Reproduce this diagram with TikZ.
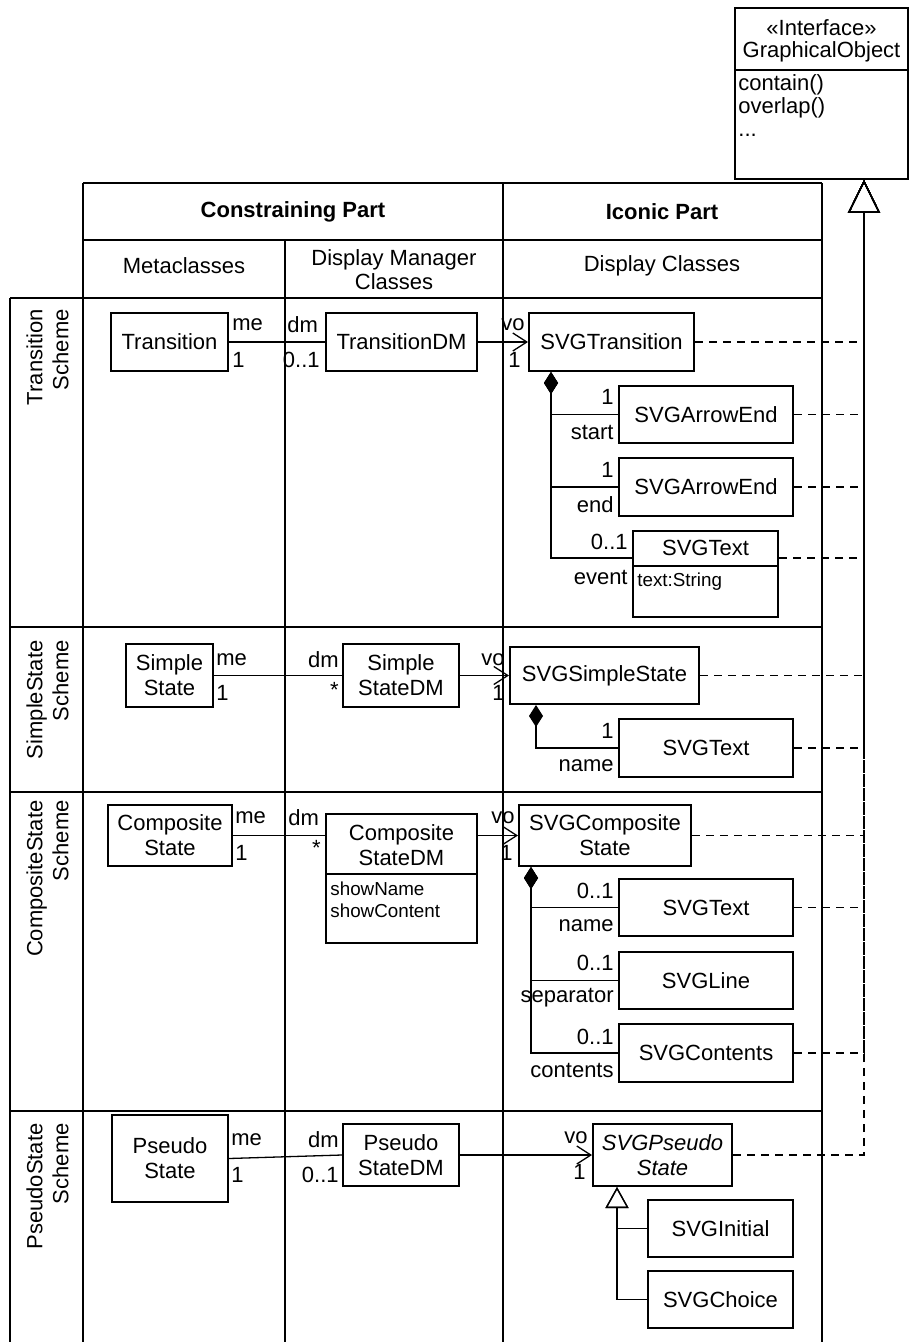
\documentclass[tikz,border=0pt]{standalone}
\usepackage{fontspec}
\setmainfont{Liberation Sans}
\usetikzlibrary{arrows.meta}
\newcommand\clsbox[7][]{\node[cls,minimum width={(#5-#3)*0.5pt},minimum height={(#6-#4)*0.5pt},#1] (#2) at ({(#3+#5)/2},{(#4+#6)/2}) {#7};}
\begin{document}
\begin{tikzpicture}[x=0.5pt,y=-0.5pt,
  every node/.style={font=\fontsize{11}{12.5}\selectfont,inner sep=0pt},
  cls/.style={draw,line width=1pt,align=center},
  hdr/.style={font=\fontsize{11}{12.5}\selectfont\bfseries},
  attr/.style={font=\fontsize{9.4}{11}\selectfont},
  scheme/.style={rotate=90,anchor=east,align=right,font=\fontsize{11}{13}\selectfont},
  tbl/.style={line width=0.65pt},
  assoc/.style={line width=0.65pt},
  nav/.style={assoc,-{Straight Barb[length=7pt,width=9pt]}},
  compos/.style={assoc,{Diamond[length=11pt,width=7pt]}-},
  gen/.style={assoc,-{Triangle[open,length=10.5pt,width=11.5pt]}},
  real/.style={line width=0.65pt,dash pattern=on 4pt off 3pt,-{Triangle[open,length=16.5pt,width=16pt]}},
  sep/.style={line width=1pt}]
\useasboundingbox (0,0) rectangle (909,1342);

% ---------- table ----------
\draw[tbl] (83,183) -- (822,183) (83,240) -- (822,240);
\draw[line width=0.9pt] (10,298) -- (822,298);
\draw[tbl] (10,627) -- (822,627) (10,792) -- (822,792) (10,1111) -- (822,1111);
\draw[tbl] (10,298) -- (10,1342) (83,183) -- (83,1342) (285,240) -- (285,1342)
  (503,183) -- (503,1342) (822,183) -- (822,1342);

\node[hdr] (hcp) at (293,212) {Constraining Part};
\node[hdr] (hip) at (662,212) {Iconic Part};
\node (hmc) at (184,266) {Metaclasses};
\node[align=center,font=\fontsize{11}{12}\selectfont] (hdm) at (394,270) {Display Manager\\Classes};
\node (hdc) at (662,266) {Display Classes};

\node[scheme] (s1) at (47.5,309) {Transition\\Scheme};
\node[scheme] (s2) at (47.5,640) {SimpleState\\Scheme};
\node[scheme] (s3) at (47.5,800) {CompositeState\\Scheme};
\node[scheme] (s4) at (47.5,1123) {PseudoState\\Scheme};

% ---------- interface ----------
\clsbox{gobj}{735}{8}{908}{179}{}
\draw[sep] (735,70) -- (908,70);
\node[align=center,font=\fontsize{11}{11}\selectfont] (gobjn) at (821.5,41) {«Interface»\\GraphicalObject};
\node[anchor=west,align=left,font=\fontsize{11}{11.5}\selectfont] (gobjm) at (738,106) {contain()\\overlap()\\...};
\coordinate (gtip) at ([xshift=65pt]gobj.south west);

% ---------- Transition scheme ----------
\clsbox{trans}{111}{313}{228}{371}{Transition}
\clsbox{transdm}{326}{313}{477}{371}{TransitionDM}
\clsbox{svgtrans}{529}{313}{694}{371}{SVGTransition}
\clsbox{ae1}{619}{386}{793}{443}{SVGArrowEnd}
\clsbox{ae2}{619}{458}{793}{516}{SVGArrowEnd}
\clsbox{txt1}{633}{531}{778}{617}{}
\draw[sep] (633,566) -- (778,566);
\node (txt1n) at (705.5,548) {SVGText};
\node[attr,anchor=west] (txt1a) at (637,582) {text:String};

\draw[assoc] (trans.east) -- (transdm.west);
\draw[nav] (transdm.east) -- (svgtrans.west);
\draw[compos] ([xshift=11.5pt]svgtrans.south west) |- (ae1.west);
\draw[compos] ([xshift=11.5pt]svgtrans.south west) |- (ae2.west);
\draw[compos] ([xshift=11.5pt]svgtrans.south west) |- ([yshift=-14pt]txt1.north west);

\node[anchor=west] (t1) at (232,325) {me};
\node[anchor=west] (t2) at (232,360) {1};
\node[anchor=west] (t3) at (287,325) {dm};
\node[anchor=east] (t4) at (320,360) {0..1};
\node[anchor=east] (t5) at (525,325) {vo};
\node[anchor=east] (t6) at (521,360) {1};
\node[anchor=east] (t7) at (614,397) {1};
\node[anchor=east] (t8) at (614,432) {start};
\node[anchor=east] (t9) at (614,470) {1};
\node[anchor=east] (t10) at (614,505) {end};
\node[anchor=east] (t11) at (628,542) {0..1};
\node[anchor=east] (t12) at (628,577) {event};

% ---------- SimpleState scheme ----------
\clsbox{simple}{126}{644}{213}{707}{Simple\\State}
\clsbox{simpledm}{343}{644}{459}{707}{Simple\\StateDM}
\clsbox{svgsimple}{510}{647}{699}{704}{SVGSimpleState}
\clsbox{txt2}{619}{719}{793}{777}{SVGText}

\draw[assoc] (simple.east) -- (simpledm.west);
\draw[nav] (simpledm.east) -- (svgsimple.west);
\draw[compos] ([xshift=13.5pt]svgsimple.south west) |- (txt2.west);

\node[anchor=west] (u1) at (216,660) {me};
\node[anchor=west] (u2) at (216,693) {1};
\node[anchor=east] (u3) at (339,660) {dm};
\node[anchor=east] (u4) at (339,690) {*};
\node[anchor=east] (u5) at (505,660) {vo};
\node[anchor=east] (u6) at (505,693) {1};
\node[anchor=east] (u7) at (614,731) {1};
\node[anchor=east] (u8) at (614,766) {name};

% ---------- CompositeState scheme ----------
\clsbox{cstate}{108}{805}{232}{866}{Composite\\State}
\clsbox{compdm}{326}{814}{477}{943}{}
\draw[sep] (326,874) -- (477,874);
\node[align=center] (compdmn) at (401.5,845) {Composite\\StateDM};
\node[attr,anchor=west,align=left] (compdma) at (330,900) {showName\\showContent};
\clsbox{svgcomp}{519}{805}{691}{866}{SVGComposite\\State}
\clsbox{txt3}{619}{879}{793}{936}{SVGText}
\clsbox{svgline}{619}{952}{793}{1009}{SVGLine}
\clsbox{svgcont}{619}{1024}{793}{1082}{SVGContents}

\draw[assoc] (cstate.east) -- (cstate.east -| compdm.west);
\draw[nav] (compdm.east |- svgcomp.west) -- (svgcomp.west);
\draw[compos] ([xshift=6.5pt]svgcomp.south west) |- (txt3.west);
\draw[compos] ([xshift=6.5pt]svgcomp.south west) |- (svgline.west);
\draw[compos] ([xshift=6.5pt]svgcomp.south west) |- (svgcont.west);

\node[anchor=west] (v1) at (235,818) {me};
\node[anchor=west] (v2) at (235,853) {1};
\node[anchor=west] (v3) at (288,818) {dm};
\node[anchor=east] (v4) at (321,848) {*};
\node[anchor=east] (v5) at (515,818) {vo};
\node[anchor=east] (v6) at (513,853) {1};
\node[anchor=east] (v7) at (614,891) {0..1};
\node[anchor=east] (v8) at (614,926) {name};
\node[anchor=east] (v9) at (614,963) {0..1};
\node[anchor=east] (v10) at (614,998) {separator};
\node[anchor=east] (v11) at (614,1037) {0..1};
\node[anchor=east] (v12) at (614,1070) {contents};

% ---------- PseudoState scheme ----------
\clsbox{pseudo}{112}{1115}{228}{1202}{Pseudo\\State}
\clsbox{pseudodm}{343}{1124}{459}{1186}{Pseudo\\StateDM}
\clsbox[font=\fontsize{11}{12.5}\selectfont\itshape]{svgpseudo}{593}{1124}{732}{1186}{SVGPseudo\\State}
\clsbox{sinit}{648}{1200}{793}{1257}{SVGInitial}
\clsbox{schoice}{648}{1271}{793}{1328}{SVGChoice}

\draw[assoc] (pseudo.east) -- (pseudodm.west);
\draw[nav] (pseudodm.east) -- (svgpseudo.west);
\draw[gen] (sinit.west) -| ([xshift=12.5pt]svgpseudo.south west);
\draw[gen] (schoice.west) -| ([xshift=12.5pt]svgpseudo.south west);

\node[anchor=west] (w1) at (231,1140) {me};
\node[anchor=west] (w2) at (231,1175) {1};
\node[anchor=east] (w3) at (339,1140) {dm};
\node[anchor=east] (w4) at (339,1175) {0..1};
\node[anchor=east] (w5) at (588,1138) {vo};
\node[anchor=east] (w6) at (586,1172) {1};

% ---------- realizations ----------
\draw[real] (svgtrans.east) -| (gtip);
\draw[real] (ae1.east) -| (gtip);
\draw[real] (ae2.east) -| (gtip);
\draw[real] ([yshift=-14pt]txt1.north east) -| (gtip);
\draw[real] (svgsimple.east) -| (gtip);
\draw[real] (txt2.east) -| (gtip);
\draw[real] (svgcomp.east) -| (gtip);
\draw[real] (txt3.east) -| (gtip);
\draw[real] (svgcont.east) -| (gtip);
\draw[real] (svgpseudo.east) -| (gtip);
\end{tikzpicture}
\end{document}
